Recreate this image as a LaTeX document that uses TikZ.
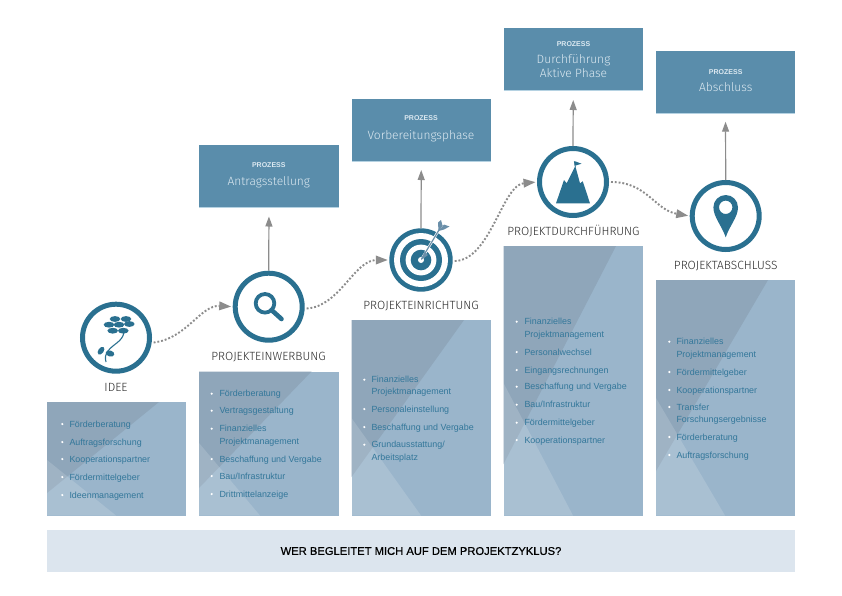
\documentclass[tikz,border=0pt]{standalone}
\usepackage{fontspec}
\setmainfont{Liberation Sans}
\newfontfamily\lightf{Fira Sans Light}
\usetikzlibrary{arrows.meta,calc}
\definecolor{ringc}{HTML}{2A7090}
\definecolor{procc}{HTML}{5A8DAB}
\definecolor{procl}{HTML}{B5D2E2}
\definecolor{panelc}{HTML}{9AB5CB}
\definecolor{paneld}{HTML}{8FA6BA}
\definecolor{listc}{HTML}{33779A}
\definecolor{bandc}{HTML}{DCE5EE}
\definecolor{lablc}{HTML}{2B2B2B}
\definecolor{arrc}{HTML}{8C8C8C}
\definecolor{procw}{HTML}{DCE9F1}
\definecolor{shaftc}{HTML}{6A8FA9}
\tikzset{
  ring/.style={circle,draw=ringc,line width=5pt,fill=white,minimum size=67pt,inner sep=0pt},
  procbox/.style={rectangle,fill=procc,minimum width=140pt,minimum height=62.5pt,anchor=north west,inner sep=0pt,outer sep=0pt},
  panelbox/.style={rectangle,fill=panelc,minimum width=140pt,anchor=north west,inner sep=0pt,outer sep=0pt},
  prozlabel/.style={anchor=base,inner sep=0pt,text=procw,font=\fontsize{7}{8}\selectfont\bfseries},
  proctext/.style={anchor=base,inner sep=0pt,text=procw,font=\fontsize{12}{14}\selectfont\lightf},
  phase/.style={anchor=base,inner sep=0pt,text=lablc,font=\fontsize{11.9}{13}\selectfont\lightf},
  item/.style={anchor=base west,inner sep=0pt,text=listc,font=\fontsize{8.9}{10}\selectfont},
  uparrow/.style={draw=arrc,line width=1.2pt,-{Triangle[length=10pt,width=7pt,fill=arrc]}},
  dotarrow/.style={draw=arrc,line width=1.9pt,dash pattern=on 1.9pt off 1.9pt,-{Triangle[length=12pt,width=8.5pt,fill=arrc]}},
}
\newcommand{\lit}[4]{\node[item] (#1) at (#2,#3+3) {#4};}
\newcommand{\blt}[2]{\fill[white] (#1,#2) circle (1.2);}
\newcommand{\panelshade}[5]{% x, top, right-top x, left y dark, left y light
  \fill[paneld] (#1,#2) -- (#3,#2) -- (#1,#4) -- cycle;
  \fill[white,opacity=.15] (#1,#5) -- (\lbx,515.5) -- (#1,515.5) -- cycle;}
\begin{document}
\begin{tikzpicture}[x=1pt,y=-1pt]
\useasboundingbox (0,0) rectangle (842,595);
\fill[white] (0,0) rectangle (842,595);
% panels
\node[panelbox,minimum height=113.5pt,minimum width=139pt] (p1) at (47,402) {};
\node[panelbox,minimum height=144pt] (p2) at (199,371.5) {};
\node[panelbox,minimum height=195.5pt,minimum width=139.5pt] (p3) at (351.5,320) {};
\node[panelbox,minimum height=269.5pt,minimum width=139.5pt] (p4) at (503.5,246) {};
\node[panelbox,minimum height=235.5pt,minimum width=139pt] (p5) at (656,280) {};
\def\lbx{116}\panelshade{47}{402}{159}{493}{460}
\def\lbx{260}\panelshade{199}{371.5}{311.5}{488}{443}
\def\lbx{421}\panelshade{351.5}{320}{464}{477}{418}
\def\lbx{573}\panelshade{503.5}{246}{616}{464}{383}
\def\lbx{725}\panelshade{656}{280}{768}{471}{398}
% process boxes
\node[procbox] (b1) at (199,144.5) {};
\node[procbox,minimum width=139.5pt] (b2) at (351.5,98.5) {};
\node[procbox,minimum width=139.5pt] (b3) at (503.5,28) {};
\node[procbox,minimum width=139pt] (b4) at (656,50.5) {};
\foreach \b in {b1,b2,b3,b4}{\draw[procl,line width=.6pt] (\b.south west) -- (\b.south east);}
\node[prozlabel] (z1) at (268.8,167.3) {PROZESS};
\node[proctext] (t1) at (268.8,185.3) {Antragsstellung};
\node[prozlabel] (z2) at (421,120.3) {PROZESS};
\node[proctext] (t2) at (421,139.3) {Vorbereitungsphase};
\node[prozlabel] (z3) at (573.5,46) {PROZESS};
\node[proctext] (t3) at (573.5,63.5) {Durchführung};
\node[proctext] (t3b) at (573.5,77) {Aktive Phase};
\node[prozlabel] (z4) at (725.7,74) {PROZESS};
\node[proctext] (t4) at (725.7,91) {Abschluss};
% circles
\node[ring] (c1) at (116,337.7) {};
\node[ring] (c2) at (268.7,306.7) {};
\node[circle,fill=ringc,minimum size=63.4pt,inner sep=0pt,outer sep=0pt] (c3) at (421,260) {};
\node[ring] (c4) at (573,182) {};
\node[ring] (c5) at (725.7,216) {};
% target
\fill[white] (c3) circle (27);
\fill[ringc] (c3) circle (21);
\fill[white] (c3) circle (15.4);
\fill[ringc] (c3) circle (10.3);
\fill[white] (c3) circle (3);
\draw[white,line width=2.4pt] (422,258.5) -- (440,228);
\draw[shaftc,line width=1.2pt] (421.5,259) -- (442,225);
\fill[shaftc] (421,260) -- (424.5,252) -- (428,255) -- cycle;
\fill[shaftc] (438.5,231) -- (438,222.5) -- (441,220) -- (442.5,225.5) -- cycle;
\fill[shaftc] (438.5,231) -- (444,229.5) -- (449.5,226.5) -- (444,224.5) -- cycle;
% flower
\foreach \px/\py in {115/319,126/319,109/324.7,119/324.7,129.3/324,112.7/330.7,123.3/330.7}{
  \fill[ringc] (\px,\py) ellipse (5.3 and 2.9);}
\draw[ringc,line width=1.1pt] (124,332.7) .. controls (122,342) and (113,344) .. (108,351) .. controls (105,355) and (105,358) .. (106,362);
\fill[ringc,rotate around={55:(101,350.7)}] (101,350.7) ellipse (4.4 and 2.7);
\fill[ringc,rotate around={-15:(110,353.5)}] (110,353.5) ellipse (4.4 and 3);
% magnifier
\draw[ringc,line width=3.8pt] (265,303.3) circle (9.3);
\draw[ringc,line width=4.6pt,line cap=round] (271.5,310) -- (281.5,319);
% mountain
\fill[ringc] (556,203.3) -- (564,180) -- (566.7,183.3) -- (575.3,166) -- (580,183.3) -- (582.7,181.3) -- (590,203.3) -- cycle;
\draw[ringc,line width=.7pt] (575.3,167) -- (574.3,161.5);
\fill[ringc] (574.3,161) -- (581.5,163.7) -- (574.8,165.8) -- cycle;
% pin
\fill[ringc,even odd rule] (725.7,237.3) .. controls (722,226) and (713.4,217) .. (713.4,207.3) arc[start angle=180,end angle=360,radius=12.3] .. controls (738,217) and (729.4,226) .. (725.7,237.3) -- cycle
  (725.7,207.3) circle (6.7);
% phase labels
\node[phase] (l1) at (116,391) {IDEE};
\node[phase] (l2) at (268.5,360) {PROJEKTEINWERBUNG};
\node[phase] (l3) at (421,309) {PROJEKTEINRICHTUNG};
\node[phase] (l4) at (573.5,235) {PROJEKTDURCHFÜHRUNG};
\node[phase] (l5) at (725.7,269) {PROJEKTABSCHLUSS};
% connectors
\draw[uparrow,shorten >=9.5pt] (c2.north) -- (b1.south);
\draw[uparrow,shorten >=9pt] (c3.north) -- (b2.south);
\draw[uparrow,shorten >=9.5pt] (c4.north) -- (b3.south);
\draw[uparrow,shorten >=8.7pt] (c5.north) -- (b4.south);
\draw[dotarrow,shorten <=2pt,shorten >=1.5pt] (c1.-8) .. controls +(35,-4) and +(-32,-2) .. (c2.west);
\draw[dotarrow,shorten <=2pt,shorten >=1.5pt] (c2.-3) .. controls +(35,-2) and +(-35,0) .. (c3.west);
\draw[dotarrow,shorten <=2pt,shorten >=1.5pt] (c3.-2) .. controls +(38,-1) and +(-35,3) .. (c4.west);
\draw[dotarrow,shorten <=2pt,shorten >=1.5pt] (c4.0) .. controls +(38,0) and +(-35,-6) .. (c5.west);
% lists
\blt{62.3}{424}\lit{a1}{69.3}{424}{Förderberatung}
\blt{62.3}{442}\lit{a2}{69.3}{442}{Auftragsforschung}
\blt{62.3}{459}\lit{a3}{69.3}{459}{Kooperationspartner}
\blt{62.3}{477}\lit{a4}{69.3}{477}{Fördermittelgeber}
\blt{62.3}{495}\lit{a5}{69.3}{495}{Ideenmanagement}
\blt{211.7}{393.7}\lit{e1}{219.3}{393.7}{Förderberatung}
\blt{211.7}{410.7}\lit{e2}{219.3}{410.7}{Vertragsgestaltung}
\blt{211.7}{428.7}\lit{e3}{219.3}{428.7}{Finanzielles}
\lit{e3b}{219.3}{441}{Projektmanagement}
\blt{211.7}{459}\lit{e4}{219.3}{459}{Beschaffung und Vergabe}
\blt{211.7}{476}\lit{e5}{219.3}{476}{Bau/Infrastruktur}
\blt{211.7}{494}\lit{e6}{219.3}{494}{Drittmittelanzeige}
\blt{364.3}{379.7}\lit{f1}{371.3}{379.7}{Finanzielles}
\lit{f1b}{371.3}{391.7}{Projektmanagement}
\blt{364.3}{409}\lit{f2}{371.3}{409}{Personaleinstellung}
\blt{364.3}{427}\lit{f3}{371.3}{427}{Beschaffung und Vergabe}
\blt{364.3}{444.7}\lit{f4}{371.3}{444.7}{Grundausstattung/}
\lit{f4b}{371.3}{457}{Arbeitsplatz}
\blt{516.7}{321.7}\lit{g1}{524.3}{321.7}{Finanzielles}
\lit{g1b}{524.3}{334}{Projektmanagement}
\blt{516.7}{352}\lit{g2}{524.3}{352}{Personalwechsel}
\blt{516.7}{370}\lit{g3}{524.3}{370}{Eingangsrechnungen}
\blt{516.7}{386.7}\lit{g4}{524.3}{386.7}{Beschaffung und Vergabe}
\blt{516.7}{404.7}\lit{g5}{524.3}{404.7}{Bau/Infrastruktur}
\blt{516.7}{422.7}\lit{g6}{524.3}{422.7}{Fördermittelgeber}
\blt{516.7}{440}\lit{g7}{524.3}{440}{Kooperationspartner}
\blt{669.3}{341.7}\lit{h1}{676.3}{341.7}{Finanzielles}
\lit{h1b}{676.3}{354}{Projektmanagement}
\blt{669.3}{372}\lit{h2}{676.3}{372}{Fördermittelgeber}
\blt{669.3}{390}\lit{h3}{676.3}{390}{Kooperationspartner}
\blt{669.3}{407}\lit{h4}{676.3}{407}{Transfer}
\lit{h4b}{676.3}{419}{Forschungsergebnisse}
\blt{669.3}{437}\lit{h5}{676.3}{437}{Förderberatung}
\blt{669.3}{455}\lit{h6}{676.3}{455}{Auftragsforschung}
% band
\node[rectangle,fill=bandc,minimum width=748pt,minimum height=42pt,inner sep=0pt,outer sep=0pt,anchor=north west] (band) at (47,530) {};
\node[inner sep=0pt,text=black,font={\fontsize{11.2}{13}\selectfont\addfontfeature{FakeBold=0.6}}] (bandt) at (band.center) {WER BEGLEITET MICH AUF DEM PROJEKTZYKLUS?};
\end{tikzpicture}
\end{document}
